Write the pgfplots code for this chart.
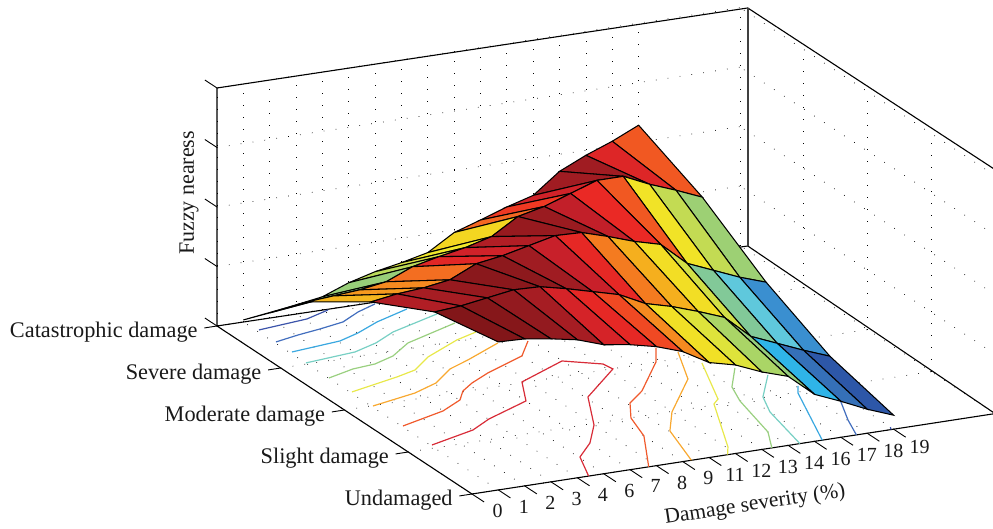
\documentclass[border=0pt]{standalone}
\usepackage{pgfplots}
\pgfplotsset{compat=1.18}
\usepackage{fontspec}
\setmainfont{Liberation Serif}
\definecolor{c1}{RGB}{60,84,170}
\definecolor{c2}{RGB}{66,110,190}
\definecolor{c3}{RGB}{58,168,224}
\definecolor{c4}{RGB}{120,208,196}
\definecolor{c5}{RGB}{154,208,128}
\definecolor{c6}{RGB}{232,232,74}
\definecolor{c7}{RGB}{248,168,48}
\definecolor{c8}{RGB}{240,90,44}
\definecolor{c9}{RGB}{216,44,56}
\begin{document}
\begin{tikzpicture}[x=1pt,y=1pt]
\path[use as bounding box] (-472pt,494pt) rectangle (521pt,-35pt);
\begin{axis}[
  at={(0pt,0pt)}, anchor=origin, clip=false,
  x={(26.35pt,4.05pt)}, y={(-63.75pt,42pt)}, z={(0pt,1pt)},
  xmin=0, xmax=19.85, ymin=0, ymax=4, zmin=0, zmax=238,
  xtick={0,...,16},
  xticklabels={0,1,2,3,4,6,7,8,9,11,12,13,14,16,17,18,19},
  ytick={0,...,4},
  yticklabels={Undamaged,Slight damage,Moderate damage,Severe damage,Catastrophic damage},
  ztick={0,59.5,119,178.5,238},
  zticklabels={},
  xtick pos=left, ytick pos=left, ztick pos=left,
  grid=major,
  grid style={black, line width=0.7pt, dash pattern=on 0.7pt off 11.3pt},
  tick align=outside,
  major tick length=13pt,
  tick style={draw=none},
  axis line style={draw=none},
  xticklabel style={font=\fontsize{20}{24}\selectfont, text=black!90, xshift=9pt, yshift=1pt},
  yticklabel style={font=\fontsize{22.3}{26}\selectfont, text=black!90, anchor=east, xshift=-3pt, yshift=-4pt},
  point meta min=14, point meta max=150,
  colormap={fuzzy}{
    rgb255(0pt)=(43,74,159) rgb255(16pt)=(47,95,174) rgb255(22pt)=(53,112,184)
    rgb255(27pt)=(58,143,208) rgb255(33pt)=(47,180,232) rgb255(38pt)=(95,200,220)
    rgb255(46pt)=(120,200,168) rgb255(54pt)=(148,204,126) rgb255(63pt)=(168,212,104)
    rgb255(70pt)=(200,220,80) rgb255(78pt)=(240,232,42) rgb255(86pt)=(244,212,32)
    rgb255(92pt)=(245,168,30) rgb255(97pt)=(245,130,32) rgb255(102pt)=(242,96,34)
    rgb255(109pt)=(238,42,36) rgb255(118pt)=(200,32,42) rgb255(125pt)=(160,28,34)
    rgb255(132pt)=(138,24,28) rgb255(136pt)=(122,20,22)},
]
% box edges
\addplot3[black,line width=1.1pt,forget plot] coordinates {(0,4,0)(0,0,0)(19.85,0,0)(20.07,3.97,0)(0,4,0)(0,4,238)(20.07,3.97,238)(19.85,0,244)};
\addplot3[black!75,line width=1.5pt,forget plot] coordinates {(20.07,3.97,0)(20.07,3.97,238)};
% z ticks
\pgfplotsinvokeforeach{0,59.5,119,178.5,238}{
  \addplot3[black,line width=0.9pt,forget plot] coordinates {(0,4,#1)(0,4.19,#1)};
}
% x ticks
\pgfplotsinvokeforeach{0,...,16}{
  \addplot3[black,line width=0.9pt,forget plot] coordinates {(#1,0,0)(#1,-0.19,0)};
}
% y ticks
\pgfplotsinvokeforeach{0,...,4}{
  \addplot3[black,line width=0.9pt,forget plot] coordinates {(0,#1,0)(-0.48,#1,0)};
}
% contours on the floor
\addplot3[c1,line width=1.2pt] coordinates {(1.106,3.799,0)(3.097,3.869,0)(4.164,3.98,0)};
\addplot3[c1,line width=1.2pt] coordinates {(15.9,0,0)(16,0.05,0)};
\addplot3[c2,line width=1.2pt] coordinates {(1.069,3.517,0)(2.073,3.586,0)(3.03,3.637,0)(4.065,3.704,0)(4.993,3.852,0)(5.89,3.957,0)};
\addplot3[c2,line width=1.2pt] coordinates {(15.651,0.682,0)(15.027,0.313,0)(14.588,0,0)};
\addplot3[c3,line width=1.2pt] coordinates {(1.094,3.276,0)(3.085,3.346,0)(4.012,3.447,0)(5.111,3.603,0)(6.641,3.765,0)};
\addplot3[c3,line width=1.2pt] coordinates {(15.076,1.118,0)(14.749,0.983,0)(13.292,0,0)};
\addplot3[c4,line width=1.2pt] coordinates {(1.011,3.023,0)(3.033,3.089,0)(4.099,3.201,0)(5.136,3.362,0)(7.331,3.58,0)};
\addplot3[c4,line width=1.2pt] coordinates {(14.666,1.42,0)(13.485,1.01,0)(12.999,0.699,0)(12.444,0,0)};
\addplot3[c5,line width=1.2pt] coordinates {(1.018,2.664,0)(2.177,2.767,0)(3.087,2.798,0)(4.015,2.899,0)(5.084,3.106,0)(7.464,3.352,0)};
\addplot3[c5,line width=1.2pt] coordinates {(13.978,1.653,0)(12.998,1.295,0)(12.59,1.001,0)(12.004,0.319,0)(11.38,0,0)};
\addplot3[c6,line width=1.2pt] coordinates {(1.072,2.326,0)(3.157,2.482,0)(4.038,2.563,0)(5.045,2.776,0)(6.731,3.019,0)(7.69,3.116,0)};
\addplot3[c6,line width=1.2pt] coordinates {(13.196,1.848,0)(12.006,1.104,0)(11.65,1.02,0)(10.072,0.148,0)(9.699,0,0)};
\addplot3[c7,line width=1.2pt] coordinates {(1.064,1.993,0)(2.964,2.119,0)(4.077,2.25,0)(5.162,2.479,0)(6.136,2.6,0)(7.853,2.839,0)};
\addplot3[c7,line width=1.2pt] coordinates {(12.972,2.131,0)(12.018,1.58,0)(9.984,0.99,0)(9.035,0.63,0)(8.327,0,0)};
\addplot3[c8,line width=1.2pt] coordinates {(1.053,1.518,0)(2.985,1.689,0)(4.022,1.851,0)(4.534,2.016,0)(5.185,2.143,0)(6.144,2.29,0)(7.985,2.517,0)(8.87,2.788,0)};
\addplot3[c8,line width=1.2pt] coordinates {(12.482,2.273,0)(11.828,2.003,0)(10.042,1.485,0)(9.113,1.288,0)(8.442,0.996,0)(8.001,0.61,0)(6.707,0,0)};
\addplot3[c9,line width=1.2pt] coordinates {(1.058,1.065,0)(3.02,1.233,0)(4.026,1.398,0)(6.006,1.636,0)(6.771,2.015,0)(8.981,2.301,0)(10.103,2.121,0)(10.178,1.996,0)(8.1,1.529,0)(6.977,0.97,0)(6.013,0.635,0)(5.051,0.394,0)(4.426,0,0)};
% surface
\addplot3[surf, shader=flat corner, draw=black, line width=1.05pt, mesh/rows=5] table {
x y z
1 0 148
2 0 147
3 0 143
4 0 138
5 0 129
6 0 125
7 0 119
8 0 110
9 0 95
10 0 88.5
11 0 77.5
12 0 69
13 0 47
14 0 36
15 0 24
16 0 14
1 1 136
2 1 138
3 1 142
4 1 146
5 1 145
6 1 139
7 1 132
8 1 125
9 1 112
10 1 105
11 1 96
12 1 86
13 1 63
14 1 52
15 1 41
16 1 31
1 2 104
2 2 108
3 2 110
4 2 114
5 2 126
6 2 130
7 2 136
8 2 142
9 2 141
10 2 133
11 2 124
12 2 117
13 2 94
14 2 83
15 2 72
16 2 63
1 3 62
2 3 64
3 3 66
4 3 70
5 3 81
6 3 87
7 3 92
8 3 99
9 3 115
10 3 121
11 3 130
12 3 139
13 3 139
14 3 127
15 3 117
16 3 106
1 4 2
2 4 5
3 4 9
4 4 13
5 4 23
6 4 30
7 4 35
8 4 41
9 4 57
10 4 65.5
11 4 74.5
12 4 82
13 4 102
14 4 114
15 4 124
16 4 136
};
\end{axis}
\node[rotate=8.7, font=\fontsize{21.5}{25}\selectfont, text=black!90] at (283pt,-11pt) {Damage severity (\%)};
\node[rotate=90, font=\fontsize{22}{26}\selectfont, text=black!90] at (-283pt,301pt) {Fuzzy nearess};
\end{tikzpicture}
\end{document}
